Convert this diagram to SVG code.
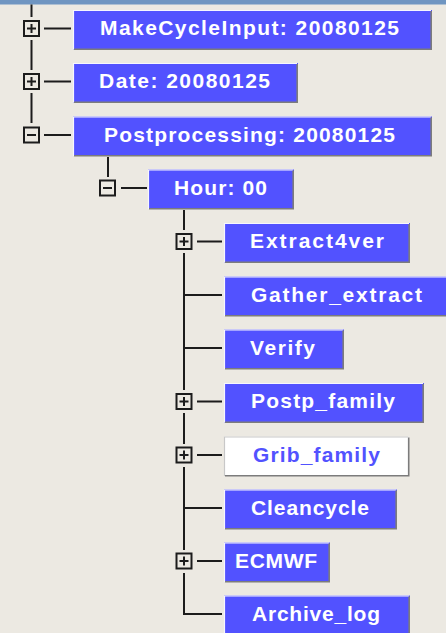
<svg xmlns="http://www.w3.org/2000/svg" width="446" height="633" viewBox="0 0 446 633">
<style>
.bg{fill:#ece9e2}
.band{fill:#6f95c1}
.box{fill:#5252ff}
.wbox{fill:#ffffff}
.hi{fill:none;stroke:#f6f6ff;stroke-width:1.2}
.sh{fill:none;stroke:#7c7c7c;stroke-width:1.6}
.lbl{font-family:"Liberation Sans",Arial,sans-serif;font-weight:bold;font-size:21px;fill:#ffffff}
.lblb{font-family:"Liberation Sans",Arial,sans-serif;font-weight:bold;font-size:21px;fill:#5252ff}
.exp{fill:none;stroke:#1c1c1c;stroke-width:2}
.ln{fill:none;stroke:#1c1c1c;stroke-width:2}
</style>
<defs>
<g id="plus"><rect class="exp" x="-7.5" y="-7.5" width="15" height="15"/><path class="exp" d="M-4.5,0H4.5M0,-4.5V4.5"/></g>
<g id="minus"><rect class="exp" x="-7.5" y="-7.5" width="15" height="15"/><path class="exp" d="M-4.5,0H4.5"/></g>
</defs>
<rect class="bg" x="0" y="0" width="446" height="633"/>
<rect class="band" x="0" y="0" width="446" height="4.5"/>

<g id="connectors">
<path class="ln" d="M31.5,4.5V17M31.5,40V70M31.5,93V123"/>
<path class="ln" d="M44,28.5H71M44,81.5H71M44,135H71"/>
<path class="ln" d="M108,157V177M121,188H147"/>
<path class="ln" d="M184,210V230M184,253V390M184,413V444M184,467V550M184,573V614H222"/>
<path class="ln" d="M197,241.5H222M184,295H222M184,348H222M197,401.5H222M197,455H222M184,508H222M197,561H222"/>
<use href="#plus" x="31.5" y="28.5"/>
<use href="#plus" x="31.5" y="81.5"/>
<use href="#minus" x="31.5" y="135"/>
<use href="#minus" x="107.5" y="188"/>
<use href="#plus" x="184" y="241.5"/>
<use href="#plus" x="184" y="401.5"/>
<use href="#plus" x="184" y="455"/>
<use href="#plus" x="184" y="561"/>
</g>

<g id="n-makecycleinput">
<rect class="box" x="73" y="10" width="359" height="39.5"/>
<path class="hi" d="M73.5,49.5V10.5H431"/><path class="sh" d="M74,49.2H431.2V11"/>
<text class="lbl" x="100" y="35" textLength="299" lengthAdjust="spacing">MakeCycleInput: 20080125</text>
</g>
<g id="n-date">
<rect class="box" x="73" y="63" width="225" height="39.5"/>
<path class="hi" d="M73.5,102.5V63.5H297"/><path class="sh" d="M74,102.2H297.2V64"/>
<text class="lbl" x="99" y="88" textLength="171" lengthAdjust="spacing">Date: 20080125</text>
</g>
<g id="n-postprocessing">
<rect class="box" x="73" y="116.5" width="359" height="39.5"/>
<path class="hi" d="M73.5,156V117H431"/><path class="sh" d="M74,155.7H431.2V117.5"/>
<text class="lbl" x="104" y="141.5" textLength="291" lengthAdjust="spacing">Postprocessing: 20080125</text>
</g>
<g id="n-hour">
<rect class="box" x="148" y="169.5" width="146" height="39.5"/>
<path class="hi" d="M148.5,209V170H293"/><path class="sh" d="M149,208.7H293.2V170.5"/>
<text class="lbl" x="174" y="194.5" textLength="93" lengthAdjust="spacing">Hour: 00</text>
</g>
<g id="n-extract4ver">
<rect class="box" x="224" y="223" width="186" height="39.5"/>
<path class="hi" d="M224.5,262.5V223.5H409"/><path class="sh" d="M225,262.2H409.2V224"/>
<text class="lbl" x="250" y="248" textLength="134" lengthAdjust="spacing">Extract4ver</text>
</g>
<g id="n-gather_extract">
<rect class="box" x="224" y="276.5" width="230" height="39.5"/>
<path class="hi" d="M224.5,316V277H454"/><path class="sh" d="M225,315.7H454"/>
<text class="lbl" x="251" y="301.5" textLength="171" lengthAdjust="spacing">Gather_extract</text>
</g>
<g id="n-verify">
<rect class="box" x="224" y="329.5" width="120" height="39.5"/>
<path class="hi" d="M224.5,369V330H343"/><path class="sh" d="M225,368.7H343.2V330.5"/>
<text class="lbl" x="250" y="354.5" textLength="65" lengthAdjust="spacing">Verify</text>
</g>
<g id="n-postp_family">
<rect class="box" x="224" y="383" width="200" height="39.5"/>
<path class="hi" d="M224.5,422.5V383.5H423"/><path class="sh" d="M225,422.2H423.2V384"/>
<text class="lbl" x="251" y="408" textLength="144" lengthAdjust="spacing">Postp_family</text>
</g>
<g id="n-grib_family">
<rect class="wbox" x="224" y="436.5" width="185" height="39.5"/>
<path class="sh" d="M224.5,476V437H408.5" style="stroke:#c8c8c8;stroke-width:1.2"/><path class="sh" d="M225,475.7H408.7V437.5"/>
<text class="lblb" x="253" y="461.5" textLength="127" lengthAdjust="spacing">Grib_family</text>
</g>
<g id="n-cleancycle">
<rect class="box" x="224" y="489.5" width="173" height="39.5"/>
<path class="hi" d="M224.5,529V490H396"/><path class="sh" d="M225,528.7H396.2V490.5"/>
<text class="lbl" x="251" y="514.5" textLength="118" lengthAdjust="spacing">Cleancycle</text>
</g>
<g id="n-ecmwf">
<rect class="box" x="224" y="542.5" width="106" height="39.5"/>
<path class="hi" d="M224.5,582V543H329"/><path class="sh" d="M225,581.7H329.2V543.5"/>
<text class="lbl" x="235" y="567.5" textLength="82" lengthAdjust="spacing">ECMWF</text>
</g>
<g id="n-archive_log">
<rect class="box" x="224" y="595.5" width="186" height="39.5"/>
<path class="hi" d="M224.5,635V596H409"/><path class="sh" d="M409.2,596.5V635"/>
<text class="lbl" x="252" y="620.5" textLength="128" lengthAdjust="spacing">Archive_log</text>
</g>
</svg>
